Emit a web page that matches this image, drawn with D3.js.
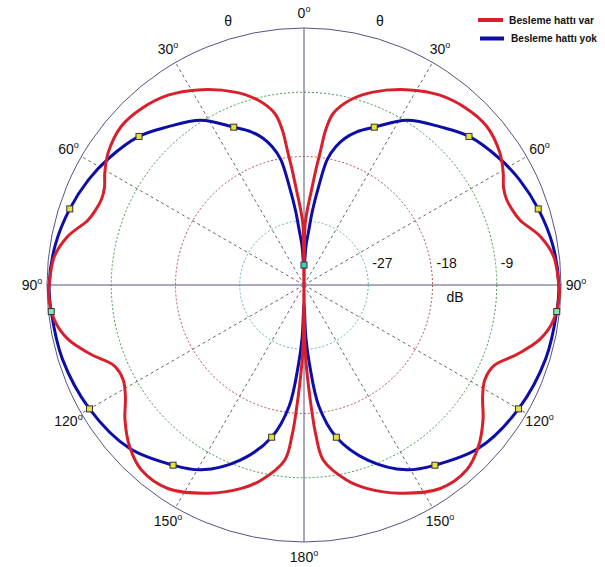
<!DOCTYPE html>
<html>
<head>
<meta charset="utf-8">
<script src="https://cdn.jsdelivr.net/npm/d3@7"></script>
<style>
html,body{margin:0;padding:0;background:#fff;}
svg{display:block;font-family:"Liberation Sans",Arial,sans-serif;}
</style>
</head>
<body>
<svg id="chart" width="605" height="567"></svg>
<script>
// ---- data (angles in degrees, 0 = top, clockwise; values in dB) ----
const seriesNames = ["Besleme hattı var", "Besleme hattı yok"];

const redAngles = [0,1,2.5,4.5,6,7,8,9.7,14,19.7,28.5,35.6,42.6,49,56,60.7,64,67.2,70,73.3,78.4,83.5,90,92,98,103,108,113,117.7,122,127,132.8,138.7,146.2,155.3,162.9,167.6,173.7,175.5,176.5,178.5,179.3,180,
  180.7,181.5,183.5,184.5,186.3,192.4,197.1,204.7,213.8,221.3,227.2,233,238,242.3,247,252,257,262,268,270,276.5,281.6,286.7,290,292.8,296,299.3,304,311,317.4,324.4,331.5,340.3,346,350.3,352,353,354,355.5,357.5,359];
const redDb = [-36,-27.6,-25.5,-22.7,-19.5,-17.1,-14.0,-11.6,-9.3,-7.3,-4.9,-3.3,-2.4,-2.1,-2.9,-4.0,-4.9,-5.2,-5.0,-4.4,-2.2,-0.8,-0.3,-0.2,-0.7,-2.1,-4.6,-7.1,-7.4,-6.5,-4.6,-2.7,-1.5,-1.7,-3.9,-6.2,-8.0,-11.3,-15.0,-18.5,-25.1,-28.3,-36,
  -28.3,-25.1,-18.5,-15.0,-11.3,-8.0,-6.2,-3.9,-1.7,-1.5,-2.7,-4.6,-6.5,-7.4,-7.1,-4.6,-2.1,-0.7,-0.2,-0.3,-0.8,-2.2,-4.4,-5.0,-5.2,-4.9,-4.0,-2.9,-2.1,-2.4,-3.3,-4.9,-7.3,-9.3,-11.6,-14.0,-17.1,-19.5,-22.7,-25.5,-27.6];

const blueAngles = [0,3,5,6.5,8.5,10.5,13,15.5,19,24,32,41,48,57,64,72,81,90,96,107,120,133,144,151,160,168,173,176,178,180,
  182,184,187,192,200,209,216,227,240,253,264,270,279,288,296,303,312,319,328,336,341,344.5,347,349.5,351.5,353.5,355,357];
const blueDb = [-33.2,-30.4,-28.3,-25.5,-22.0,-18.1,-16.1,-14.7,-13.3,-11.8,-8.8,-6.7,-4.9,-3.4,-2.4,-1.5,-0.7,-0.3,-0.4,-0.6,-1.3,-2.5,-4.8,-6.4,-9.9,-14.2,-18.9,-24.8,-28.7,-33.2,
  -28.7,-24.8,-18.9,-14.2,-9.9,-6.4,-4.8,-2.5,-1.3,-0.6,-0.4,-0.3,-0.7,-1.5,-2.4,-3.4,-4.9,-6.7,-8.8,-11.8,-13.3,-14.7,-16.1,-18.1,-22.0,-25.5,-28.3,-30.4];

const markerAngles = [0,24,48,72,96,120,144,168,192,216,240,264,288,312,336];
const ringDb = [-27,-18,-9];
const ringLabels = ["-27","-18","-9"];
const spokeAngles = [30,60,120,150,210,240,300,330];
const axisAngles = [0,90,180,270];
const angleLabelPos = [0,30,60,90,120,150,180,210,240,270,300,330];
const angleLabelText = ["0","30","60","90","120","150","180","150","120","90","60","30"];
const thetaPos = [-16,16];

// ---- layout ----
const cx = 304, cy = 285, R = 257;
const svg = d3.select("#chart");
const g = svg.append("g").attr("transform", `translate(${cx},${cy})`);

const rScale = d3.scaleLinear().domain([-36, 0]).range([0, R]).clamp(true);
const aScale = d3.scaleLinear().domain([0, 360]).range([0, 2 * Math.PI]);
const px = (a, r) => r * Math.sin(aScale(a));
const py = (a, r) => -r * Math.cos(aScale(a));

// rings
const ringColors = ["#5fb4c4", "#b85050", "#3f9a47"];
g.selectAll("circle.ring").data(ringDb).join("circle")
  .attr("r", d => rScale(d)).attr("fill", "none")
  .attr("stroke", (d, i) => ringColors[i]).attr("stroke-width", 1)
  .attr("stroke-dasharray", "2,2");

// spokes
g.selectAll("line.spoke").data(spokeAngles).join("line")
  .attr("x1", 0).attr("y1", 0)
  .attr("x2", d => px(d, R)).attr("y2", d => py(d, R))
  .attr("stroke", "#555").attr("stroke-width", 0.9).attr("stroke-dasharray", "3,3");

// axes
g.selectAll("line.axis").data(axisAngles).join("line")
  .attr("x1", 0).attr("y1", 0)
  .attr("x2", d => px(d, R)).attr("y2", d => py(d, R))
  .attr("stroke", "#55557f").attr("stroke-width", 1);

// outer circle
g.append("circle").attr("r", rScale(0)).attr("fill", "none")
  .attr("stroke", "#55557f").attr("stroke-width", 1);

// ring labels
g.selectAll("text.rl").data(ringDb).join("text")
  .attr("x", d => rScale(d) + 4).attr("y", -17)
  .attr("font-size", 14).attr("fill", "#111")
  .text((d, i) => ringLabels[i]);
g.append("text").attr("x", 151).attr("y", 17).attr("text-anchor", "middle")
  .attr("font-size", 14).attr("fill", "#111").text("dB");

// angle labels
const al = g.selectAll("text.al").data(angleLabelPos).join("text")
  .attr("x", d => px(d, 272)).attr("y", d => py(d, 272) + 5)
  .attr("text-anchor", "middle").attr("font-size", 14).attr("fill", "#111");
al.append("tspan").text((d, i) => angleLabelText[i]);
al.append("tspan").attr("dy", -6).attr("font-size", 9).text("o");

g.selectAll("text.th").data(thetaPos).join("text")
  .attr("x", d => px(d, 275)).attr("y", d => py(d, 275) + 5)
  .attr("text-anchor", "middle").attr("font-size", 14).attr("fill", "#111")
  .text("θ");

// curves
const line = d3.lineRadial()
  .angle(d => aScale(d.a)).radius(d => rScale(d.v))
  .curve(d3.curveCatmullRomClosed.alpha(0.5));
const red = redAngles.map((a, i) => ({a, v: redDb[i]}));
const blue = blueAngles.map((a, i) => ({a, v: blueDb[i]}));

g.append("path").datum(blue).attr("d", line).attr("fill", "none")
  .attr("stroke", "#0d0da8").attr("stroke-width", 3).attr("stroke-linejoin", "round");
g.append("path").datum(red).attr("d", line).attr("fill", "none")
  .attr("stroke", "#d8202c").attr("stroke-width", 3).attr("stroke-linejoin", "round");

// markers on blue series
const markers = blue.filter(d => markerAngles.includes(d.a));
g.selectAll("rect.mk").data(markers).join("rect")
  .attr("x", d => px(d.a, rScale(d.v)) - 3).attr("y", d => py(d.a, rScale(d.v)) - 3)
  .attr("width", 6).attr("height", 6)
  .attr("fill", d => d.a === 0 ? "#3fcfc0" : (d.a === 96 || d.a === 264 ? "#8fe0b8" : "#e6e23a"))
  .attr("stroke", "#333").attr("stroke-width", 1);

// legend
const legColors = ["#d8202c", "#0d0da8"];
const leg = svg.append("g");
const legY = [20, 38.5];
const legX1 = [478, 480], legX2 = [503, 504], legTX = [509, 511], legLen = [85, 86];
seriesNames.forEach((n, i) => {
  leg.append("line").attr("x1", legX1[i]).attr("x2", legX2[i])
    .attr("y1", legY[i]).attr("y2", legY[i])
    .attr("stroke", legColors[i]).attr("stroke-width", 4);
  leg.append("text").attr("x", legTX[i]).attr("y", legY[i] + 3.8)
    .attr("font-size", 11).attr("font-weight", "bold").attr("fill", "#111")
    .attr("textLength", legLen[i]).attr("lengthAdjust", "spacingAndGlyphs")
    .text(n);
});
</script>
</body>
</html>
